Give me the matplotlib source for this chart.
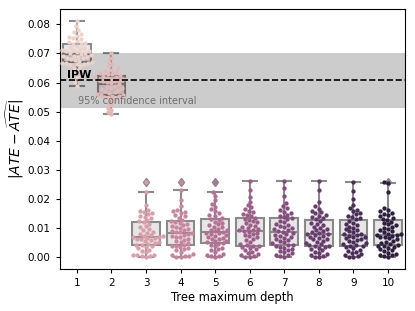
import numpy as np
import matplotlib
matplotlib.use("Agg")
import matplotlib.pyplot as plt
from matplotlib.colors import LinearSegmentedColormap

# --- data -------------------------------------------------------------
depths = [1, 2, 3, 4, 5, 6, 7, 8, 9, 10]

err_d1 = [0.0589, 0.0603, 0.0618, 0.0632, 0.0645, 0.0651, 0.0656, 0.0660, 0.0663, 0.0665,
          0.0667, 0.0668, 0.0669, 0.0671, 0.0674, 0.0677, 0.0680, 0.0683, 0.0685, 0.0687,
          0.0689, 0.0691, 0.0693, 0.0695, 0.0698, 0.0701, 0.0703, 0.0705, 0.0707, 0.0709,
          0.0711, 0.0713, 0.0716, 0.0719, 0.0722, 0.0726, 0.0731, 0.0734, 0.0737, 0.0740,
          0.0744, 0.0748, 0.0752, 0.0756, 0.0761, 0.0766, 0.0773, 0.0782, 0.0795, 0.0812]
err_d2 = [0.0491, 0.0498, 0.0506, 0.0514, 0.0522, 0.0530, 0.0537, 0.0543, 0.0548, 0.0551,
          0.0553, 0.0555, 0.0557, 0.0559, 0.0562, 0.0565, 0.0568, 0.0571, 0.0574, 0.0577,
          0.0580, 0.0583, 0.0586, 0.0590, 0.0594, 0.0598, 0.0601, 0.0604, 0.0606, 0.0608,
          0.0610, 0.0612, 0.0614, 0.0616, 0.0618, 0.0620, 0.0622, 0.0625, 0.0628, 0.0631,
          0.0634, 0.0637, 0.0641, 0.0645, 0.0650, 0.0656, 0.0663, 0.0672, 0.0686, 0.0703]
err_d3 = [0.0002, 0.0004, 0.0005, 0.0007, 0.0008, 0.0010, 0.0018, 0.0022, 0.0027, 0.0031,
          0.0035, 0.0038, 0.0042, 0.0044, 0.0047, 0.0050, 0.0053, 0.0056, 0.0059, 0.0062,
          0.0064, 0.0066, 0.0068, 0.0069, 0.0071, 0.0073, 0.0075, 0.0078, 0.0081, 0.0085,
          0.0089, 0.0093, 0.0098, 0.0103, 0.0108, 0.0115, 0.0121, 0.0124, 0.0128, 0.0134,
          0.0139, 0.0143, 0.0148, 0.0152, 0.0155, 0.0158, 0.0164, 0.0181, 0.0223, 0.0258]
err_d4 = [0.0001, 0.0003, 0.0005, 0.0006, 0.0009, 0.0013, 0.0019, 0.0024, 0.0028, 0.0032,
          0.0036, 0.0039, 0.0041, 0.0043, 0.0048, 0.0052, 0.0057, 0.0061, 0.0065, 0.0069,
          0.0072, 0.0075, 0.0078, 0.0081, 0.0083, 0.0086, 0.0088, 0.0091, 0.0094, 0.0097,
          0.0101, 0.0104, 0.0108, 0.0111, 0.0115, 0.0119, 0.0122, 0.0125, 0.0130, 0.0137,
          0.0141, 0.0147, 0.0152, 0.0156, 0.0159, 0.0162, 0.0176, 0.0196, 0.0230, 0.0260]
err_d5 = [0.0002, 0.0004, 0.0006, 0.0009, 0.0013, 0.0018, 0.0024, 0.0029, 0.0034, 0.0039,
          0.0043, 0.0047, 0.0050, 0.0052, 0.0055, 0.0058, 0.0062, 0.0065, 0.0068, 0.0071,
          0.0074, 0.0077, 0.0080, 0.0083, 0.0085, 0.0087, 0.0090, 0.0093, 0.0096, 0.0099,
          0.0103, 0.0106, 0.0110, 0.0114, 0.0118, 0.0123, 0.0129, 0.0133, 0.0137, 0.0142,
          0.0146, 0.0151, 0.0158, 0.0165, 0.0174, 0.0183, 0.0196, 0.0211, 0.0224, 0.0258]
err_d6 = [0.0001, 0.0003, 0.0005, 0.0008, 0.0011, 0.0015, 0.0020, 0.0024, 0.0028, 0.0032,
          0.0035, 0.0038, 0.0040, 0.0042, 0.0047, 0.0053, 0.0059, 0.0064, 0.0069, 0.0073,
          0.0077, 0.0081, 0.0085, 0.0088, 0.0091, 0.0093, 0.0096, 0.0099, 0.0102, 0.0105,
          0.0109, 0.0113, 0.0117, 0.0121, 0.0125, 0.0129, 0.0133, 0.0137, 0.0141, 0.0145,
          0.0150, 0.0155, 0.0160, 0.0166, 0.0172, 0.0180, 0.0191, 0.0206, 0.0232, 0.0263]
err_d7 = [0.0002, 0.0004, 0.0007, 0.0010, 0.0014, 0.0018, 0.0022, 0.0026, 0.0030, 0.0034,
          0.0037, 0.0040, 0.0042, 0.0044, 0.0048, 0.0052, 0.0056, 0.0060, 0.0064, 0.0068,
          0.0071, 0.0074, 0.0078, 0.0081, 0.0084, 0.0088, 0.0091, 0.0094, 0.0097, 0.0100,
          0.0104, 0.0108, 0.0112, 0.0116, 0.0121, 0.0126, 0.0131, 0.0135, 0.0139, 0.0143,
          0.0147, 0.0152, 0.0157, 0.0163, 0.0169, 0.0176, 0.0186, 0.0211, 0.0238, 0.0263]
err_d8 = [0.0001, 0.0003, 0.0006, 0.0009, 0.0012, 0.0016, 0.0020, 0.0025, 0.0029, 0.0033,
          0.0036, 0.0039, 0.0040, 0.0042, 0.0046, 0.0050, 0.0054, 0.0058, 0.0062, 0.0065,
          0.0068, 0.0071, 0.0074, 0.0077, 0.0079, 0.0081, 0.0084, 0.0087, 0.0090, 0.0094,
          0.0098, 0.0102, 0.0106, 0.0110, 0.0114, 0.0119, 0.0125, 0.0131, 0.0135, 0.0139,
          0.0143, 0.0147, 0.0151, 0.0155, 0.0160, 0.0167, 0.0176, 0.0192, 0.0232, 0.0263]
err_d9 = [0.0001, 0.0002, 0.0005, 0.0008, 0.0011, 0.0015, 0.0019, 0.0023, 0.0027, 0.0031,
          0.0035, 0.0038, 0.0040, 0.0042, 0.0045, 0.0049, 0.0053, 0.0057, 0.0060, 0.0063,
          0.0066, 0.0069, 0.0072, 0.0075, 0.0077, 0.0079, 0.0082, 0.0086, 0.0090, 0.0094,
          0.0098, 0.0102, 0.0106, 0.0110, 0.0114, 0.0119, 0.0125, 0.0131, 0.0135, 0.0139,
          0.0144, 0.0148, 0.0153, 0.0158, 0.0163, 0.0170, 0.0180, 0.0200, 0.0228, 0.0258]
err_d10 = [0.0002, 0.0004, 0.0007, 0.0010, 0.0013, 0.0017, 0.0021, 0.0025, 0.0029, 0.0033,
           0.0036, 0.0039, 0.0041, 0.0043, 0.0046, 0.0050, 0.0054, 0.0058, 0.0062, 0.0066,
           0.0069, 0.0072, 0.0075, 0.0077, 0.0078, 0.0079, 0.0082, 0.0086, 0.0090, 0.0094,
           0.0098, 0.0102, 0.0106, 0.0110, 0.0114, 0.0118, 0.0123, 0.0129, 0.0133, 0.0137,
           0.0141, 0.0145, 0.0149, 0.0153, 0.0158, 0.0164, 0.0171, 0.0224, 0.0255, 0.0258]

errors = [err_d1, err_d2, err_d3, err_d4, err_d5, err_d6, err_d7, err_d8, err_d9, err_d10]

ipw_estimate = 0.0610
ipw_ci = (0.0517, 0.0703)


def cubehelix_colors(n, start=0, rot=0.4, gamma=1.0, hue=0.8, light=0.85, dark=0.15):
    """Same colours as seaborn's default cubehelix_palette."""
    def chan(p0, p1):
        def f(x):
            xg = x ** gamma
            a = hue * xg * (1 - xg) / 2
            phi = 2 * np.pi * (start / 3 + rot * x)
            return xg + a * (p0 * np.cos(phi) + p1 * np.sin(phi))
        return f
    cdict = {'red': chan(-0.14861, 1.78277),
             'green': chan(-0.29227, -0.90649),
             'blue': chan(1.97294, 0.0)}
    cmap = LinearSegmentedColormap("cubehelix", cdict)
    return cmap(np.linspace(light, dark, n))[:, :3]


def beeswarm(y_px, d):
    """x offsets (pixels) so that dots of diameter d do not overlap."""
    order = np.argsort(y_px)
    placed = []
    offsets = np.zeros(len(y_px))
    for i in order:
        y = y_px[i]
        near = [(px, py) for px, py in placed if abs(py - y) < d]
        cands = [0.0]
        for px, py in near:
            dx = np.sqrt(d * d - (py - y) ** 2)
            cands += [px - dx, px + dx]
        cands.sort(key=abs)
        x = cands[-1]
        for c in cands:
            if all((c - px) ** 2 + (y - py) ** 2 >= d * d - 1e-6 for px, py in near):
                x = c
                break
        placed.append((x, y))
        offsets[i] = x
    return offsets


fig = plt.figure(figsize=(4.15, 3.11), dpi=100)
ax = fig.add_axes([0.1435, 0.135, 0.833, 0.836])

positions = np.arange(len(depths))
gray = '#8a8a8a'
ax.boxplot(errors, positions=positions, widths=0.8, patch_artist=True,
           boxprops=dict(facecolor='#e6e6e6', edgecolor=gray, linewidth=1.5),
           whiskerprops=dict(color=gray, linewidth=1.5),
           capprops=dict(color=gray, linewidth=1.5),
           medianprops=dict(color=gray, linewidth=1.5),
           flierprops=dict(marker='d', markerfacecolor=gray, markeredgecolor=gray,
                           markersize=4.5),
           zorder=2)

all_vals = np.concatenate(errors)
lo, hi = all_vals.min(), all_vals.max()
pad = 0.05 * (hi - lo)
ax.set_ylim(lo - pad, hi + pad)
ax.set_xlim(-0.5, len(depths) - 0.5)

ax.axhspan(ipw_ci[0], ipw_ci[1], facecolor=(0, 0, 0, 0.2),
           edgecolor=(0, 0, 0, 0.1), linewidth=1.0, zorder=2.5)

# swarm points
ms = 3.1  # points
d_px = ms * fig.dpi / 72.0
colors = cubehelix_colors(len(depths))
for i, vals in enumerate(errors):
    vals = np.asarray(vals)
    pts = ax.transData.transform(np.column_stack([np.full(len(vals), i), vals]))
    off = beeswarm(pts[:, 1], d_px)
    pts[:, 0] += off
    xy = ax.transData.inverted().transform(pts)
    ax.scatter(xy[:, 0], xy[:, 1], s=ms ** 2, color=colors[i], linewidths=0, zorder=4)

ax.axhline(ipw_estimate, color='black', linestyle='--', linewidth=1.2, zorder=5)
ax.text(-0.29, 0.0627, 'IPW', fontsize=8, fontweight='bold', va='center', ha='left', zorder=6)
ax.text(0.03, 0.0537, '95% confidence interval', fontsize=7, color='#6e6e6e',
        va='center', ha='left', zorder=6)

ax.set_xticks(positions)
ax.set_xticklabels([str(d) for d in depths])
ax.set_yticks([0.0, 0.01, 0.02, 0.03, 0.04, 0.05, 0.06, 0.07, 0.08])
ax.set_yticklabels(['0.00', '0.01', '0.02', '0.03', '0.04', '0.05', '0.06', '0.07', '0.08'])
ax.tick_params(labelsize=7.5, length=3)
ax.set_xlabel('Tree maximum depth', fontsize=8.3, labelpad=2)
ax.set_ylabel(r'$|ATE - \widehat{ATE}|$', fontsize=10, labelpad=1)

fig.savefig('out.png', dpi=100)
